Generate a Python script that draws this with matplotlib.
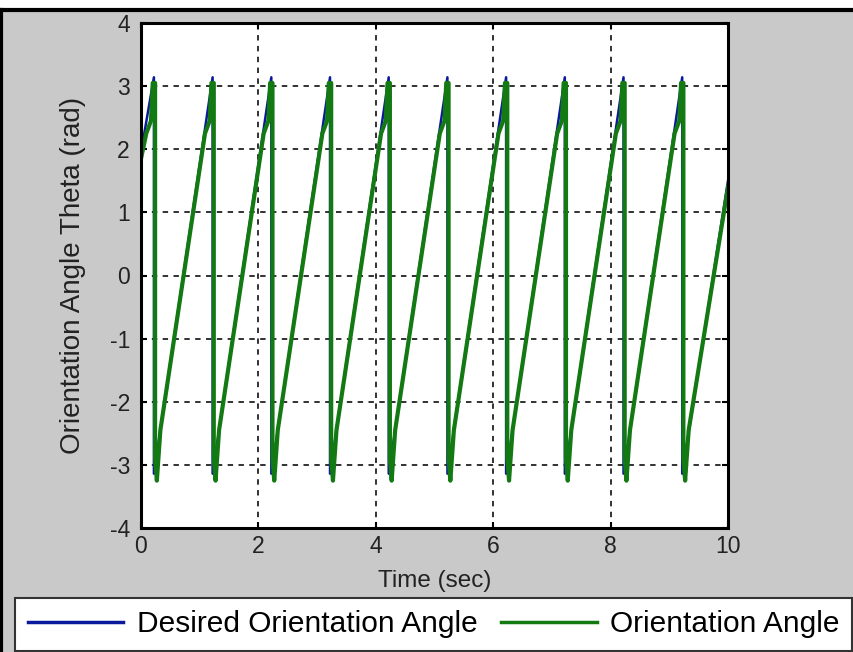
import matplotlib
matplotlib.use("Agg")
import matplotlib.pyplot as plt
from matplotlib.patches import Rectangle

plt.rcParams['font.family'] = ['Liberation Sans', 'DejaVu Sans']
plt.rcParams['axes.unicode_minus'] = False

# desired orientation (sawtooth vertices)
des_t = [0.0, 0.22, 0.22, 1.22, 1.22, 2.22, 2.22, 3.22, 3.22, 4.22, 4.22,
         5.22, 5.22, 6.22, 6.22, 7.22, 7.22, 8.22, 8.22, 9.22, 9.22, 10.0]
des_theta = [1.95, 3.14, -3.14, 3.14, -3.14, 3.14, -3.14, 3.14, -3.14, 3.14, -3.14,
             3.14, -3.14, 3.14, -3.14, 3.14, -3.14, 3.14, -3.14, 3.14, -3.14, 1.5]

# wrap instants and the shape of the actual angle around each wrap
wrap_times = [0.22, 1.22, 2.22, 3.22, 4.22, 5.22, 6.22, 7.22, 8.22, 9.22]
act_dt = [-0.13, -0.09, -0.05, -0.02, 0.02, 0.02, 0.05, 0.08, 0.11]
act_shape = [2.25, 2.35, 2.45, 3.05, 3.05, -2.9, -3.25, -2.85, -2.45]
act_start = (0.0, 1.85)
act_end = (10.0, 1.4)

act_t = [act_start[0]]
act_theta = [act_start[1]]
for tw in wrap_times:
    for dt, v in zip(act_dt, act_shape):
        act_t.append(tw + dt)
        act_theta.append(v)
act_t.append(act_end[0])
act_theta.append(act_end[1])

fig = plt.figure(figsize=(8.54, 6.52), dpi=100, facecolor='#c9c9c9')
ax = fig.add_axes([141/854, 124/652, 587/854, 505/652])

ax.plot(des_t, des_theta, color='#0b1a9c', lw=1.8, label='Desired Orientation Angle')
ax.plot(act_t, act_theta, color='#137a13', lw=3.0, label='Orientation Angle')

ax.set_xlim(0, 10)
ax.set_ylim(-4, 4)
ax.set_xticks([0, 2, 4, 6, 8, 10])
ax.set_yticks([-4, -3, -2, -1, 0, 1, 2, 3, 4])
ax.grid(True, color='#222222', linestyle=(0, (3, 3)), lw=1.3)
ax.tick_params(direction='in', length=4, width=1.5, labelsize=16.5,
               top=True, right=True, colors='black', labelcolor='#222222')
ax.tick_params(axis='y', pad=8)
ax.tick_params(axis='x', pad=5)
for s in ax.spines.values():
    s.set_linewidth(2.2)
    s.set_color('black')
ax.set_xlabel('Time (sec)', fontsize=17.5, color='#222222', labelpad=9)
ax.set_ylabel('Orientation Angle Theta (rad)', fontsize=20, color='#222222', labelpad=17)

# figure frame: white strip on top and black border
fig.patches.append(Rectangle((0, 1 - 9/652), 1, 9/652, transform=fig.transFigure,
                             facecolor='white', edgecolor='none', zorder=0))
fig.add_artist(plt.Line2D([0, 1], [1 - 10/652, 1 - 10/652], transform=fig.transFigure,
                          color='black', lw=3))
fig.add_artist(plt.Line2D([1.5/854, 1.5/854], [0, 1 - 10/652], transform=fig.transFigure,
                          color='black', lw=3))

leg = fig.legend(loc='lower left', bbox_to_anchor=(15/854, 1/652),
                 ncol=2, fontsize=21.5, frameon=True, fancybox=False,
                 edgecolor='#333333', facecolor='white', framealpha=1,
                 handlelength=3.2, handletextpad=0.45, borderaxespad=0,
                 borderpad=0.42, columnspacing=0.8)
leg.get_frame().set_linewidth(1.5)
for line in leg.get_lines():
    line.set_linewidth(2.5)

fig.savefig('out.png', dpi=100, facecolor=fig.get_facecolor())
